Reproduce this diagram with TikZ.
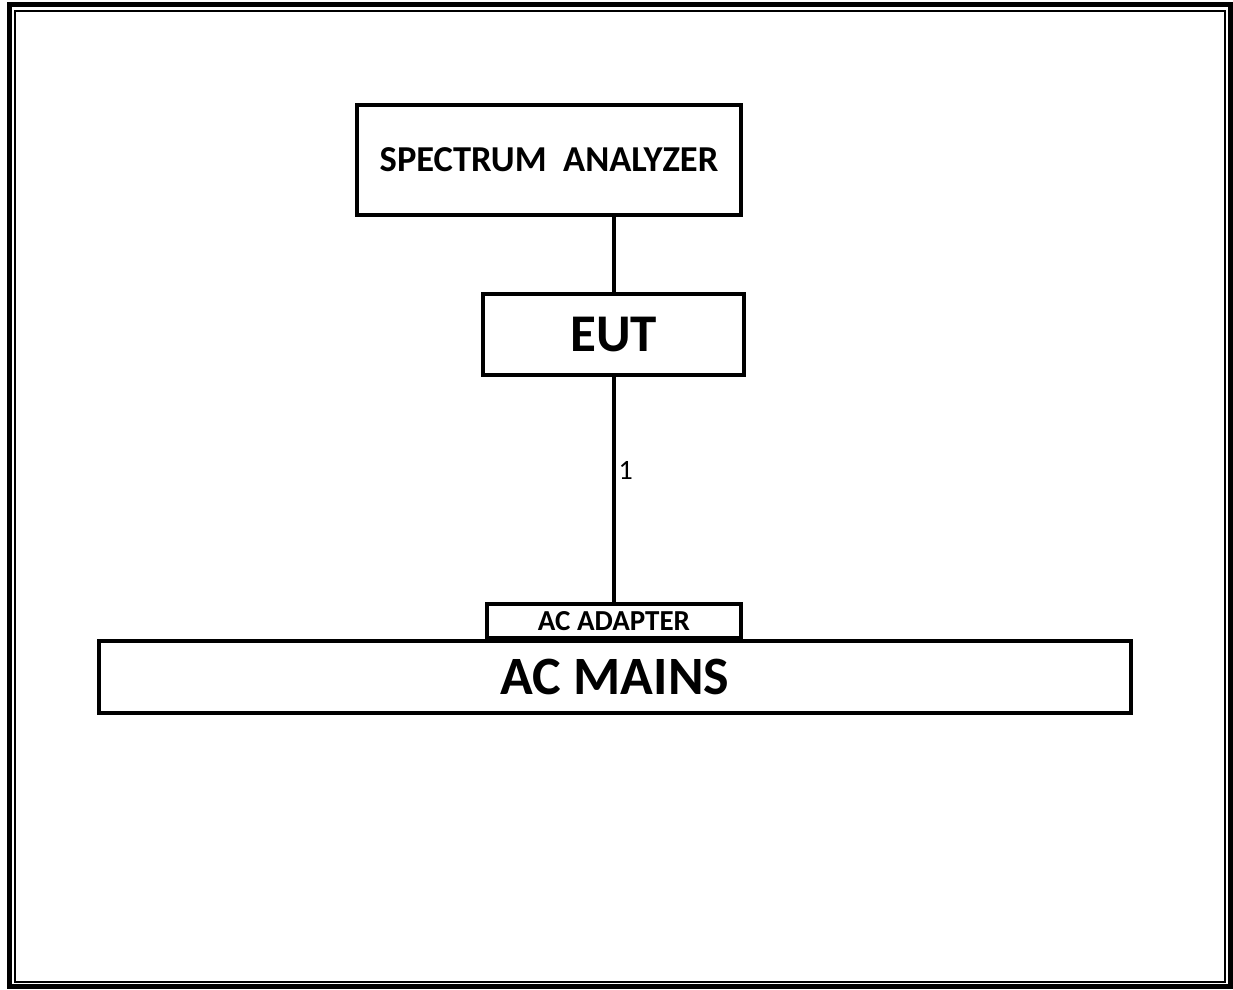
\documentclass[tikz,border=0pt]{standalone}
\usepackage{fontspec}
\setmainfont{Carlito}
\begin{document}
\begin{tikzpicture}[x=1pt,y=-1pt,
  blk/.style={draw=black,line width=3.5pt,fill=white,inner sep=0pt,font=\bfseries},
  wire/.style={draw=black,line width=4pt}]
\useasboundingbox[fill=white] (0,0) rectangle (1233,989);
% frame
\draw[line width=5pt] (9.5,4.5) rectangle (1230,986);
\draw[line width=2pt] (15,11) rectangle (1225,982);
% boxes
\node[blk,minimum width=384pt,minimum height=110pt,font=\bfseries\fontsize{36.5}{40}\selectfont] (sa) at (549,160) {SPECTRUM\ \ ANALYZER};
\node[blk,minimum width=261pt,minimum height=81pt,font=\bfseries\fontsize{53}{58}\selectfont] (eut) at (613.5,334.5) {EUT};
\node[blk,minimum width=1032pt,minimum height=72pt,font=\bfseries\fontsize{54}{58}\selectfont] (mains) at (615,677) {AC MAINS};
\node[blk,minimum width=254pt,minimum height=34pt,font=\bfseries\fontsize{29}{30}\selectfont] (ad) at (614,621) {AC ADAPTER};
% connectors
\coordinate (c1) at (614,0);
\draw[wire] (sa.south -| c1) -- (eut.north -| c1);
\draw[wire] (eut.south -| c1) -- node[pos=0.415,right,font=\fontsize{28}{30}\selectfont,inner sep=2.5pt] (one) {1} (ad.north -| c1);
\end{tikzpicture}
\end{document}
